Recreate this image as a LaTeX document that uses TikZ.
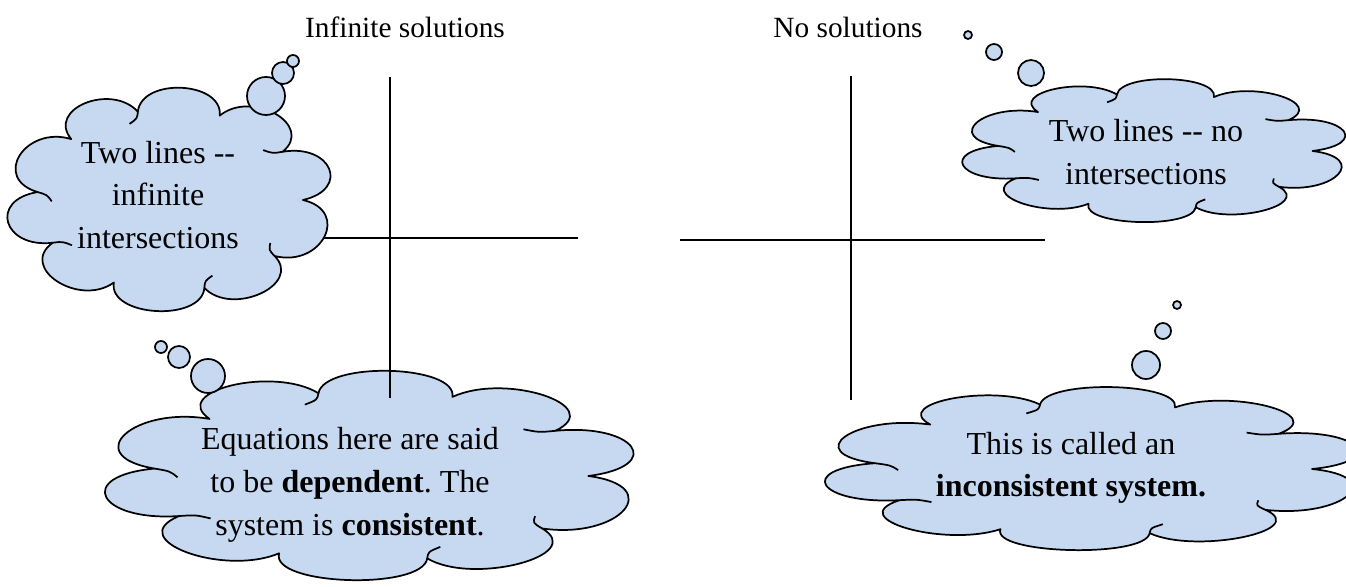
\documentclass[tikz,border=0pt]{standalone}
\usepackage{fontspec}
\setmainfont{Liberation Serif}
\definecolor{cloudblue}{HTML}{C6D9F1}
\frenchspacing
\newcommand{\dashpair}{-\kern0pt-}
% cloud at (x,y) with width and height in px
\newcommand{\wordcloud}[4]{%
  \begin{scope}[shift={(#1,#2)}, x=#3*0.1875pt, y=#4*0.1875pt]
    \filldraw[cloudline, fill=cloudblue] (0:0.82)
      \foreach \a/\b in {0/32, 32/68, 68/104, 104/138, 138/175, 175/208, 208/245, 245/285, 285/322, 322/360} {
        .. controls (\a+5:1.12) and (\b-5:1.12) .. (\b:0.82)} -- cycle;
    \foreach \a in {32, 104, 175, 208, 285, 322} {
      \draw[cloudline] (\a:0.82) .. controls (\a+1.5:0.76) .. (\a+6:0.73);}
  \end{scope}}

\begin{document}
\begin{tikzpicture}[x=0.375pt, y=-0.375pt,
  cloudline/.style={draw=black, line width=0.65pt, line join=round},
  bubble/.style={circle, draw=black, line width=0.65pt, fill=cloudblue, minimum size=#1*0.75pt, inner sep=0pt},
  words/.style={align=center, font=\fontsize{12}{16}\selectfont}]
\useasboundingbox (0,0) rectangle (1346,587);
% Titles:
\node (infsol) [font=\fontsize{11}{13}\selectfont] at (405,27) {Infinite solutions};
\node (nosol) [font=\fontsize{11}{13}\selectfont] at (848,27) {No solutions};
% Left axes:
\coordinate (lw) at (250,238);
\coordinate (le) at (578,238);
\coordinate (ln) at (390,77);
\coordinate (ls) at (390,398);
\draw[line width=0.75pt] (lw) -- (le);
% Right axes:
\coordinate (rw) at (680,240);
\coordinate (re) at (1045,240);
\coordinate (rn) at (851,76);
\coordinate (rs) at (851,400);
\draw[line width=0.75pt] (rw) -- (re);
\draw[line width=0.75pt] (rn) -- (rs);
% Left cloud:
\wordcloud{170}{200}{324}{222}
\node (bubA1) [bubble=19] at (266,96) {};
\node (bubA2) [bubble=11] at (283,73) {};
\node (bubA3) [bubble=6] at (293,61) {};
\node (txtA) [words] at (158,195) {Two lines \dashpair\\infinite\\intersections};
% Bottom left cloud:
\wordcloud{371}{476}{530}{208}
\node (bubB1) [bubble=17] at (208,376) {};
\node (bubB2) [bubble=11] at (179,357) {};
\node (bubB3) [bubble=6] at (161,347) {};
\node (txtB) [words] at (350,485) {Equations here are said\\to be \textbf{dependent}. The\\system is \textbf{consistent}.};
\draw[line width=0.75pt] (ln) -- (ls);
% Top right cloud:
\wordcloud{1155}{151}{384}{142}
\node (bubC1) [bubble=13] at (1031,73) {};
\node (bubC2) [bubble=8] at (994,52) {};
\node (bubC3) [bubble=4] at (968,35) {};
\node (txtC) [words] at (1146,152) {Two lines \dashpair{} no\\intersections};
% Bottom right cloud:
\wordcloud{1093}{469}{534}{162}
\node (bubD1) [bubble=14] at (1146,365) {};
\node (bubD2) [bubble=8] at (1163,331) {};
\node (bubD3) [bubble=4] at (1177,305) {};
\node (txtD) [words] at (1071,468) {This is called an\\\textbf{inconsistent system.}};
\end{tikzpicture}
\end{document}
